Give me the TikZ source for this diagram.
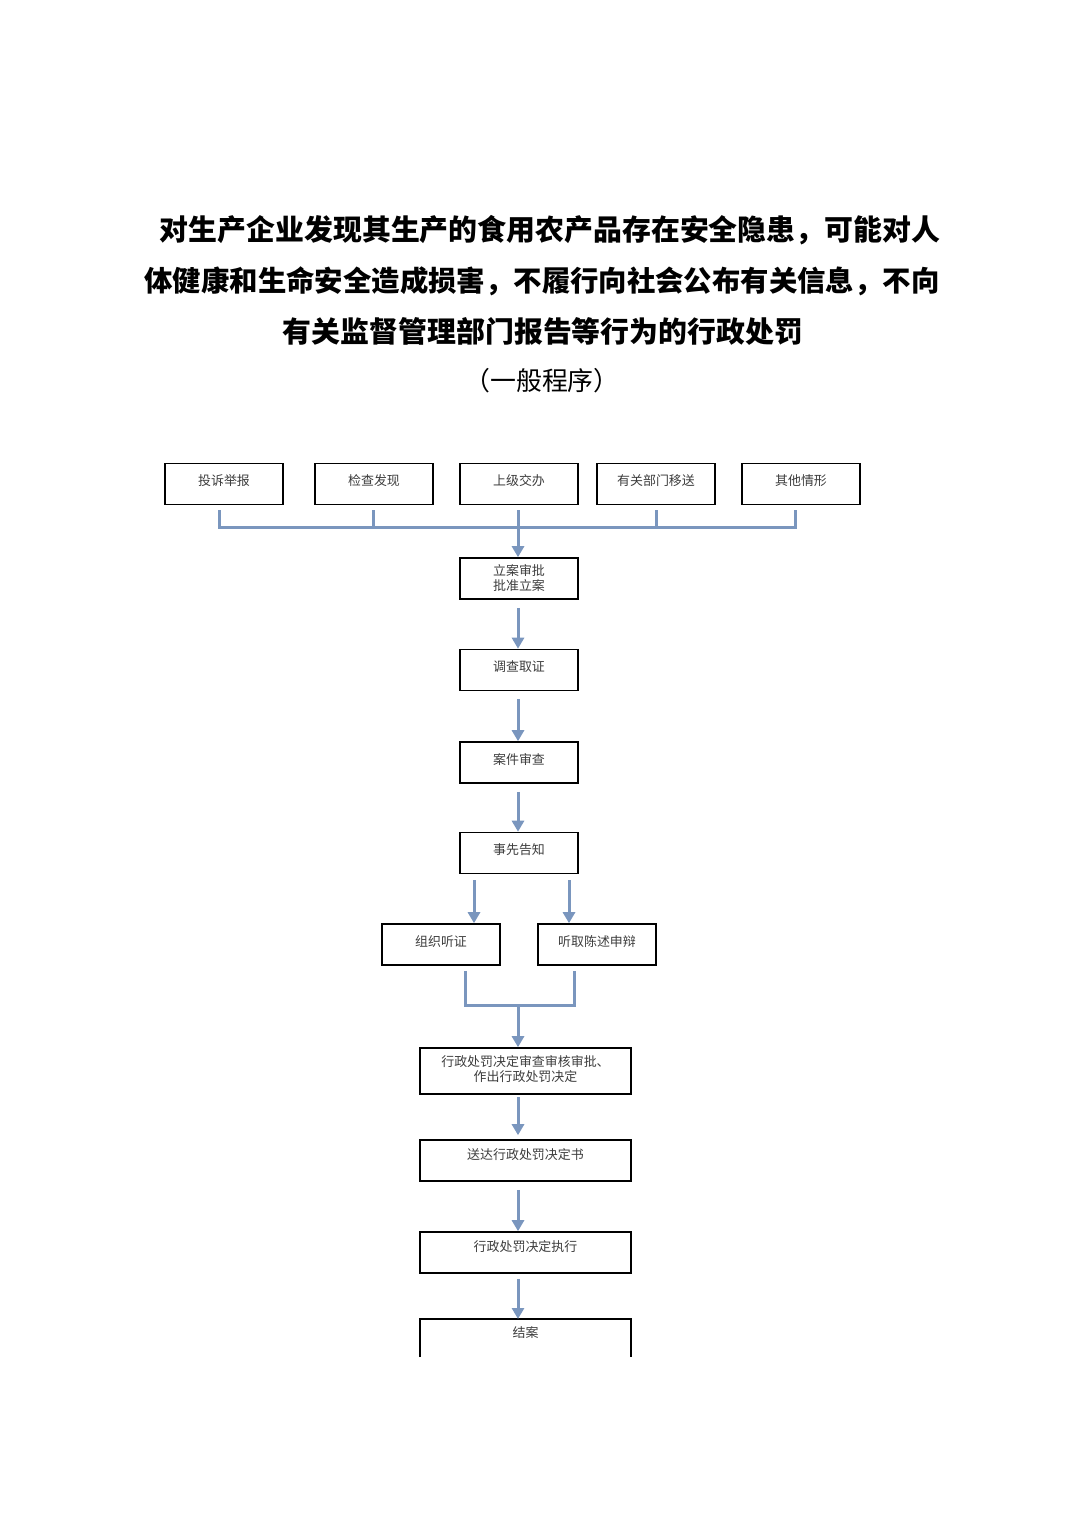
\documentclass[tikz,border=0pt]{standalone}
\usepackage{fontspec}
\newfontfamily\cjk{Noto Sans CJK SC}
\usetikzlibrary{arrows.meta,calc}
\definecolor{linecol}{RGB}{122,150,190}
\definecolor{txtcol}{RGB}{60,60,60}
\begin{document}
\begin{tikzpicture}[x=1bp,y=-1bp,
  box/.style={draw=black,line width=1.6bp,minimum width=118bp,minimum height=41bp,inner sep=0pt},
  widebox/.style={box,minimum width=211bp},
  lbl/.style={font=\cjk\fontsize{13}{15}\selectfont,text=txtcol,align=center,inner sep=0pt},
  conn/.style={draw=linecol,line width=3bp},
  arr/.style={conn,-{Triangle[width=12bp,length=11bp]}},
  ttl/.style={font=\cjk\bfseries\fontsize{29}{32}\selectfont,inner sep=0pt}]
\useasboundingbox (0,0) rectangle (1075,1520);
% title
\node[ttl] (t1) at (550,230) {对生产企业发现其生产的食用农产品存在安全隐患，可能对人};
\node[ttl,font=\cjk\bfseries\fontsize{28.5}{32}\selectfont] (t2) at (542,281) {体健康和生命安全造成损害，不履行向社会公布有关信息，不向};
\node[ttl] (t3) at (543,331) {有关监督管理部门报告等行为的行政处罚};
\node[font=\cjk\fontsize{26}{30}\selectfont,inner sep=0pt] (t4) at (542,381) {（一般程序）};
% top row
\node[box] (b1) at (224,484) {};
\node[box] (b2) at (374,484) {};
\node[box] (b3) at (519,484) {};
\node[box] (b4) at (656,484) {};
\node[box] (b5) at (801,484) {};
\node[lbl] at ([yshift=-18]b1.north) {投诉举报};
\node[lbl] at ([yshift=-18]b2.north) {检查发现};
\node[lbl] at ([yshift=-18]b3.north) {上级交办};
\node[lbl] at ([yshift=-18]b4.north) {有关部门移送};
\node[lbl] at ([yshift=-18]b5.north) {其他情形};
% main column
\node[box] (c1) at (519,578.5) {};
\node[lbl] at ([yshift=-21]c1.north) {立案审批\\批准立案};
\node[box] (c2) at (519,670) {};
\node[lbl] at ([yshift=-18]c2.north) {调查取证};
\node[box] (c3) at (519,762.5) {};
\node[lbl] at ([yshift=-18]c3.north) {案件审查};
\node[box] (c4) at (519,853) {};
\node[lbl] at ([yshift=-18]c4.north) {事先告知};
\node[box] (h1) at (441,944.5) {};
\node[lbl] at ([yshift=-18]h1.north) {组织听证};
\node[box] (h2) at (597,944.5) {};
\node[lbl] at ([yshift=-18]h2.north) {听取陈述申辩};
\node[widebox,minimum height=46bp] (d1) at (525.5,1071) {};
\node[lbl,align=center] at ([yshift=-22]d1.north) {行政处罚决定审查审核审批、\\作出行政处罚决定};
\node[widebox] (d2) at (525.5,1160.5) {};
\node[lbl] at ([yshift=-15]d2.north) {送达行政处罚决定书};
\node[widebox] (d3) at (525.5,1252.5) {};
\node[lbl] at ([yshift=-15]d3.north) {行政处罚决定执行};
\coordinate (e1) at (420,1319);
\coordinate (e2) at (631,1319);
\coordinate (e1b) at (420,1357);
\coordinate (e2b) at (631,1357);
\draw[line width=1.6bp] (e1b) -- (e1) -- (e2) -- (e2b);
\node[lbl] (d4) at (525.5,1333) {结案};
% top bus
\coordinate (bus) at (518,527);
\coordinate (p1) at (219,527);
\coordinate (p2) at (373,527);
\coordinate (p4) at (656,527);
\coordinate (p5) at (795,527);
\draw[conn] ([yshift=-5]b1.south -| p1) -- (p1) -- (p5) -- ([yshift=-5]b5.south -| p5);
\draw[conn] ([yshift=-5]b2.south -| p2) -- (p2);
\draw[conn] ([yshift=-5]b4.south -| p4) -- (p4);
\draw[conn] ([yshift=-5]b3.south -| bus) -- (bus);
\draw[arr] (bus) -- (c1.north -| bus);
% column arrows
\draw[arr] ([yshift=-8]c1.south -| bus) -- (c2.north -| bus);
\draw[arr] ([yshift=-8]c2.south -| bus) -- (c3.north -| bus);
\draw[arr] ([yshift=-8]c3.south -| bus) -- (c4.north -| bus);
\coordinate (q1) at (474,0);
\coordinate (q2) at (569,0);
\draw[arr] ([yshift=-6]c4.south -| q1) -- (h1.north -| q1);
\draw[arr] ([yshift=-6]c4.south -| q2) -- (h2.north -| q2);
\coordinate (r1) at (465,1005);
\coordinate (r2) at (574,1005);
\coordinate (rm) at (518,1005);
\draw[conn] ([yshift=-5]h1.south -| r1) -- (r1) -- (r2) -- ([yshift=-5]h2.south -| r2);
\draw[arr] (rm) -- (d1.north -| rm);
\draw[arr] ([yshift=-2]d1.south -| rm) -- ([yshift=4]d2.north -| rm);
\draw[arr] ([yshift=-8]d2.south -| rm) -- (d3.north -| rm);
\draw[arr] ([yshift=-5]d3.south -| rm) -- (e1 -| rm);
\end{tikzpicture}
\end{document}
